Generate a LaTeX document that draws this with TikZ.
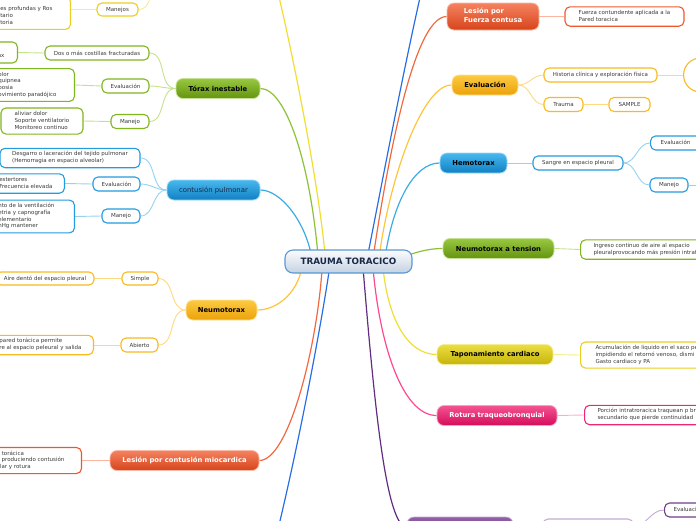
\documentclass[tikz,border=0pt]{standalone}
\usepackage{fontspec}
\setmainfont{DejaVu Sans}
\usetikzlibrary{backgrounds}

% colours: T top, B bottom, L link, S sub border, K sub link
\definecolor{lesT}{RGB}{245,130,96}
\definecolor{lesB}{RGB}{214,68,26}
\definecolor{lesL}{RGB}{242,104,62}
\definecolor{lesS}{RGB}{236,88,44}
\definecolor{lesK}{RGB}{250,180,160}
\definecolor{ambT}{RGB}{252,202,66}
\definecolor{ambB}{RGB}{236,162,10}
\definecolor{ambL}{RGB}{253,196,60}
\definecolor{ambS}{RGB}{247,186,32}
\definecolor{ambK}{RGB}{255,216,130}
\definecolor{bluT}{RGB}{72,184,238}
\definecolor{bluB}{RGB}{16,128,196}
\definecolor{bluL}{RGB}{58,172,228}
\definecolor{bluS}{RGB}{34,156,222}
\definecolor{bluK}{RGB}{150,210,242}
\definecolor{grnT}{RGB}{152,200,64}
\definecolor{grnB}{RGB}{100,148,16}
\definecolor{grnL}{RGB}{140,194,52}
\definecolor{grnS}{RGB}{128,182,30}
\definecolor{grnK}{RGB}{196,226,140}
\definecolor{yelT}{RGB}{236,222,64}
\definecolor{yelB}{RGB}{198,180,12}
\definecolor{yelL}{RGB}{240,222,50}
\definecolor{yelS}{RGB}{236,206,30}
\definecolor{yelK}{RGB}{245,236,140}
\definecolor{pnkT}{RGB}{244,84,146}
\definecolor{pnkB}{RGB}{212,12,90}
\definecolor{pnkL}{RGB}{255,72,142}
\definecolor{pnkS}{RGB}{236,40,118}
\definecolor{pnkK}{RGB}{255,172,204}
\definecolor{purT}{RGB}{146,96,166}
\definecolor{purB}{RGB}{104,56,126}
\definecolor{purL}{RGB}{98,44,128}
\definecolor{purS}{RGB}{112,62,138}
\definecolor{purK}{RGB}{196,170,210}
\definecolor{dblL}{RGB}{40,110,226}
\definecolor{rootT}{RGB}{251,252,254}
\definecolor{rootB}{RGB}{196,210,226}
\definecolor{rootD}{RGB}{88,152,212}
\definecolor{rootX}{RGB}{26,40,72}
\definecolor{subX}{RGB}{58,58,58}

\newcommand\lns[1]{\begin{tabular}{@{}l@{}}#1\end{tabular}}
\newcommand\cutl[2]{\hspace*{60pt}\lns{#2}\hspace*{#1}}
\newcommand\cutr[2]{\hspace*{#1}\lns{#2}\hspace*{60pt}}

\tikzset{
  rootbox/.style={rounded corners=8pt, minimum width=127pt, minimum height=23pt,
    top color=rootT, bottom color=rootB, draw=rootD, line width=1.1pt, text=rootX,
    font=\fontsize{8.8}{10}\selectfont\bfseries},
  topic/.style={rounded corners=7pt, minimum height=20pt, inner xsep=4pt, inner ysep=2pt,
    line width=0.8pt, top color=#1T, bottom color=#1B, draw=#1T!55!white,
    font=\fontsize{6.8}{9}\selectfont\bfseries},
  sub/.style={rounded corners=5pt, fill=white, draw=#1S, line width=1.1pt,
    minimum height=14pt, inner xsep=4pt, inner ysep=3pt, text=subX,
    font=\fontsize{5.5}{6.7}\selectfont},
  w/.style={minimum width=#1},
  link/.style={draw=#1L, line width=1.2pt},
  sublink/.style={draw=#1K, line width=0.9pt},
}

\begin{document}
\begin{tikzpicture}[x=1pt,y=-1pt]
\useasboundingbox (0,0) rectangle (696,520);

% central topic
\node[rootbox] (root) at (348.5,261.5) {TRAUMA TORACICO};

% left side
\node[sub=yel, w=41pt, minimum height=13pt] (manejos) at (117.5,9.5) {Manejos};
\node[sub=yel, anchor=east] (manejosA) at (71,13) {\cutl{14pt}{\mbox{}\\es profundas y Ros\\tario\\toria}};

\node[topic=grn, w=84pt] (torax) at (218,88.5) {Tórax inestable};
\node[sub=grn, w=104pt] (toraxDos) at (97,53) {Dos o más costillas fracturadas};
\node[sub=grn, anchor=east, minimum height=21pt] (toraxDosA) at (18,52.5) {\cutl{9pt}{\mbox{}\\ax}};
\node[sub=grn, w=47pt] (toraxEval) at (125.5,86) {Evaluación};
\node[sub=grn, anchor=east] (toraxEvalA) at (75,85) {\cutl{14pt}{olor\\quipnea\\posia\\ovimiento paradójico}};
\node[sub=grn, w=38pt] (toraxMan) at (130,121.5) {Manejo};
\node[sub=grn, w=82pt] (toraxManA) at (42,121) {\lns{aliviar dolor\\Soporte ventilatorio\\Monitoreo continuo}};

\node[topic=blu, w=93pt, font=\fontsize{6.9}{9}\selectfont, text=rootX] (contusion) at (213.5,190) {contusión pulmonar};
\node[sub=blu, w=140pt] (contDes) at (70,158) {\lns{Desgarro o laceración del tejido pulmonar\\(Hemorragia en espacio alveolar)}};
\node[sub=blu, w=47pt] (contEval) at (116.5,184) {Evaluación};
\node[sub=blu, anchor=east] (contEvalA) at (65,183.5) {\cutl{8pt}{estertores\\Frecuencia elevada}};
\node[sub=blu, w=38pt] (contMan) at (121,216) {Manejo};
\node[sub=blu, anchor=east] (contManA) at (75,216.5) {\cutl{16pt}{nto de la ventilación\\etria y capnografía\\elementario\\nHg mantener}};

\node[topic=amb, w=71pt] (neumo) at (221.5,310) {Neumotorax};
\node[sub=amb, w=36pt, minimum height=13pt] (neumoSim) at (140,278.5) {Simple};
\node[sub=amb, w=98pt, minimum height=13pt] (neumoSimA) at (45,278.5) {Aire dentó del espacio pleural};
\node[sub=amb, w=37pt] (neumoAb) at (139.5,345) {Abierto};
\node[sub=amb, anchor=east] (neumoAbA) at (94,345) {\cutl{8pt}{pared torácica permite\\re al espacio peleural y salida}};

\node[topic=les, w=149pt, text=white] (mio) at (184.5,460.5) {Lesión por contusión miocardica};
\node[sub=les, anchor=east] (mioA) at (82,460.5) {\cutl{13pt}{d torácica\\a produciendo contusión\\ular y rotura}};

% right side
\node[topic=les, w=92pt, minimum height=27pt, text=white] (fuerza) at (493,16.5) {\lns{Lesión por\\Fuerza contusa}};
\node[sub=les, w=119pt] (fuerzaA) at (624.5,16.5) {\lns{Fuerza contundente aplicada a la\\Pared toracica}};

\node[topic=amb, w=66pt] (eval) at (485,85) {Evaluación};
\node[sub=amb, w=113pt] (evalHist) at (600.5,75) {Historia clínica y exploración física};
\node[sub=amb, w=39pt] (evalTrauma) at (563.5,104.5) {Trauma};
\node[sub=amb, w=41pt] (evalSample) at (629.5,104.5) {SAMPLE};
\node[sub=amb, anchor=west, w=40pt, minimum height=34pt, rounded corners=17pt] (evalCirc) at (683,75) {};

\node[topic=blu, w=67pt] (hemo) at (473.5,163) {Hemotorax};
\node[sub=blu, w=90pt] (hemoSangre) at (578,163) {Sangre en espacio pleural};
\node[sub=blu, anchor=west] (hemoEval) at (650,143) {\cutr{6pt}{Evaluación}};
\node[sub=blu, w=38pt] (hemoMan) at (669,185) {Manejo};
\coordinate (hemoManR) at (720,185);

\node[topic=grn, w=111pt] (tension) at (498.5,248.5) {Neumotorax a tension};
\node[sub=grn, anchor=west] (tensionA) at (580,249.5) {\cutr{9pt}{Ingreso continuo de aire al espacio\\pleuralprovocando más presión intrat}};

\node[topic=yel, w=116pt] (tapon) at (495,354.5) {Taponamiento cardiaco};
\node[sub=yel, anchor=west] (taponA) at (580,355) {\cutr{11pt}{Acumulación de liquido en el saco pe\\impidiendo el retornó venoso, dismi\\Gasto cardiaco y PA}};

\node[topic=pnk, w=120pt, text=white] (rotura) at (497,415.5) {Rotura traqueobronquial};
\node[sub=pnk, anchor=west] (roturaA) at (584,415) {\cutr{9pt}{Porción intratroracica traquean p br\\secundario que pierde continuidad}};

\node[topic=pur, w=106pt] (purple) at (460,527) {};
\node[sub=pur, w=90pt, draw=purK] (purpleA) at (588,526) {};
\node[sub=pur, anchor=west] (purpleEval) at (664,510) {\cutr{5pt}{Evaluaci}};

% topics that lie outside the page
\coordinate (yelTop) at (248,-100);
\coordinate (yelSub) at (165,-25);
\coordinate (dblTop) at (460,-130);
\coordinate (dblBot) at (240,640);

\begin{scope}[on background layer]
% links from the central topic
\draw[link=yel] ([xshift=-23pt]root.center) .. controls +(-6,-90) and +(15,0) .. (yelTop);
\draw[link=grn] ([xshift=-30pt]root.center) .. controls +(-8,-100) and +(25,0) .. (torax.east);
\draw[link=blu] ([xshift=-36pt]root.center) .. controls +(-6,-40) and +(20,0) .. (contusion.east);
\draw[link=amb] ([xshift=-46pt]root.center) .. controls +(-2,30) and +(20,0) .. (neumo.east);
\draw[link=les] ([xshift=-26pt]root.center) .. controls +(-4,80) and +(30,0) .. (mio.east);
\draw[link=dbl] ([xshift=-18pt]root.center) .. controls +(-14,100) and +(20,0) .. (dblBot);
\draw[link=dbl] ([xshift=18pt]root.center) .. controls +(20,-100) and +(-20,0) .. (dblTop);
\draw[link=les] ([xshift=24pt]root.center) .. controls +(12,-80) and +(-35,0) .. (fuerza.west);
\draw[link=amb] ([xshift=30pt]root.center) .. controls +(10,-80) and +(-30,0) .. (eval.west);
\draw[link=blu] ([xshift=36pt]root.center) .. controls +(8,-60) and +(-25,0) .. (hemo.west);
\draw[link=grn] ([xshift=40pt]root.center) .. controls +(20,-6) and +(-20,0) .. (tension.west);
\draw[link=yel] ([xshift=34pt]root.center) .. controls +(4,55) and +(-30,0) .. (tapon.west);
\draw[link=pnk] ([xshift=24pt]root.center) .. controls +(6,80) and +(-35,0) .. (rotura.west);
\draw[link=pur] ([xshift=14pt]root.center) .. controls +(10,120) and +(-22,0) .. (purple.west);

% links to the sub topics
\draw[sublink=yel] (manejos.east) to[out=0,in=180] (yelSub);
\draw[sublink=yel] (manejos.west) -- (manejos.west -| manejosA.east);
\draw[sublink=grn] (torax.west) to[out=180,in=0] (toraxDos.east);
\draw[sublink=grn] (torax.west) to[out=180,in=0] (toraxEval.east);
\draw[sublink=grn] (torax.west) to[out=180,in=0] (toraxMan.east);
\draw[sublink=grn] (toraxDos.west) -- (toraxDosA.east);
\draw[sublink=grn] (toraxEval.west) -- (toraxEvalA.east);
\draw[sublink=grn] (toraxMan.west) -- (toraxManA.east);
\draw[sublink=blu] (contusion.west) to[out=180,in=0] (contDes.east);
\draw[sublink=blu] (contusion.west) to[out=180,in=0] (contEval.east);
\draw[sublink=blu] (contusion.west) to[out=180,in=0] (contMan.east);
\draw[sublink=blu] (contEval.west) -- (contEvalA.east);
\draw[sublink=blu] (contMan.west) -- (contManA.east);
\draw[sublink=amb] (neumo.west) to[out=180,in=0] (neumoSim.east);
\draw[sublink=amb] (neumo.west) to[out=180,in=0] (neumoAb.east);
\draw[sublink=amb] (neumoSim.west) -- (neumoSimA.east);
\draw[sublink=amb] (neumoAb.west) -- (neumoAbA.east);
\draw[sublink=les] (mio.west) -- (mioA.east);
\draw[sublink=les] (fuerza.east) -- (fuerzaA.west);
\draw[sublink=amb] (eval.east) to[out=0,in=180] (evalHist.west);
\draw[sublink=amb] (eval.east) to[out=0,in=180] (evalTrauma.west);
\draw[sublink=amb] (evalHist.east) -- (evalCirc.west);
\draw[sublink=amb] (evalTrauma.east) -- (evalSample.west);
\draw[sublink=blu] (hemo.east) -- (hemoSangre.west);
\draw[sublink=blu] (hemoSangre.east) to[out=0,in=180] (hemoEval.west);
\draw[sublink=blu] (hemoSangre.east) to[out=0,in=180] (hemoMan.west);
\draw[sublink=blu] (hemoMan.east) -- (hemoManR);
\draw[sublink=grn] (tension.east) -- (tensionA.west);
\draw[sublink=yel] (tapon.east) -- (taponA.west);
\draw[sublink=pnk] (rotura.east) -- (roturaA.west);
\draw[sublink=pur] (purple.east) -- (purpleA.west);
\draw[sublink=pur] (purpleA.east) to[out=0,in=180] (purpleEval.west);
\end{scope}
\end{tikzpicture}
\end{document}
